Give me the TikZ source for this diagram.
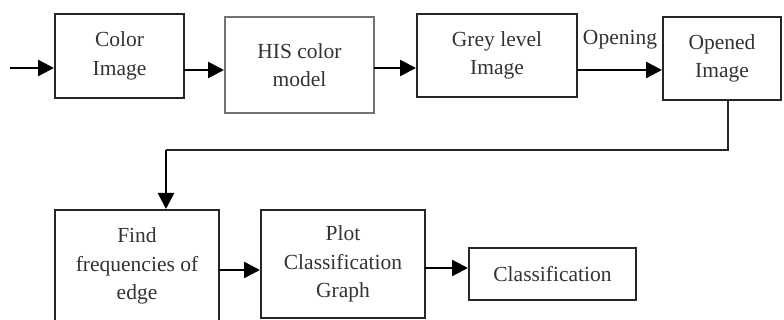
\documentclass[tikz,border=0pt]{standalone}
\usepackage{fontspec}
\setmainfont{Liberation Serif}
\usetikzlibrary{arrows.meta}
\begin{document}
\begin{tikzpicture}[x=1pt,y=-1pt,
  box/.style={draw=black!85,line width=2pt,fill=white,inner sep=0pt,align=center,text=black!80,
    font=\fontsize{21.5}{28.5}\selectfont},
  arr/.style={line width=2.6pt,-{Triangle[length=16pt,width=16pt]}},
  thin/.style={line width=1.6pt,black!85}]
\useasboundingbox (0,0) rectangle (784,320);
\node[box,minimum width=129pt,minimum height=84pt] (c1) at (119.5,56) {Color\\Image};
\node[box,draw=black!55,minimum width=149pt,minimum height=96pt] (c2) at (299.5,65) {HIS color\\model};
\node[box,minimum width=160pt,minimum height=83pt] (c3) at (497,55.5) {Grey level\\Image};
\node[box,minimum width=118pt,minimum height=83pt] (c4) at (722,58.5) {Opened\\Image};
\node[box,minimum width=164pt,minimum height=112pt] (c5) at (137,266) {Find\\frequencies of\\edge};
\node[box,minimum width=164pt,minimum height=108pt] (c6) at (343,264) {Plot\\Classification\\Graph};
\node[box,minimum width=167pt,minimum height=52pt] (c7) at (552.5,274) {Classification};
\node[text=black!80,font=\fontsize{21.5}{28.5}\selectfont,inner sep=0pt] (lop) at (620,40) {Opening};
\coordinate (in) at (10,68);
\draw[arr] (in) -- (in -| c1.west);
\coordinate (a12) at (184,70);
\draw[arr] (a12) -- (a12 -| c2.west);
\coordinate (a23) at (374,68);
\draw[arr] (a23) -- (a23 -| c3.west);
\coordinate (a34) at (577,70);
\draw[arr] (a34) -- (a34 -| c4.west);
\coordinate (d1) at (728,150);
\coordinate (d2) at (166,150);
\draw[thin] (d1 |- c4.south) -- (d1) -- (d2);
\draw[arr] (d2) -- (d2 |- c5.north);
\coordinate (a56) at (219,270);
\draw[arr] (a56) -- (a56 -| c6.west);
\coordinate (a67) at (425,268);
\draw[arr] (a67) -- (a67 -| c7.west);
\end{tikzpicture}
\end{document}
